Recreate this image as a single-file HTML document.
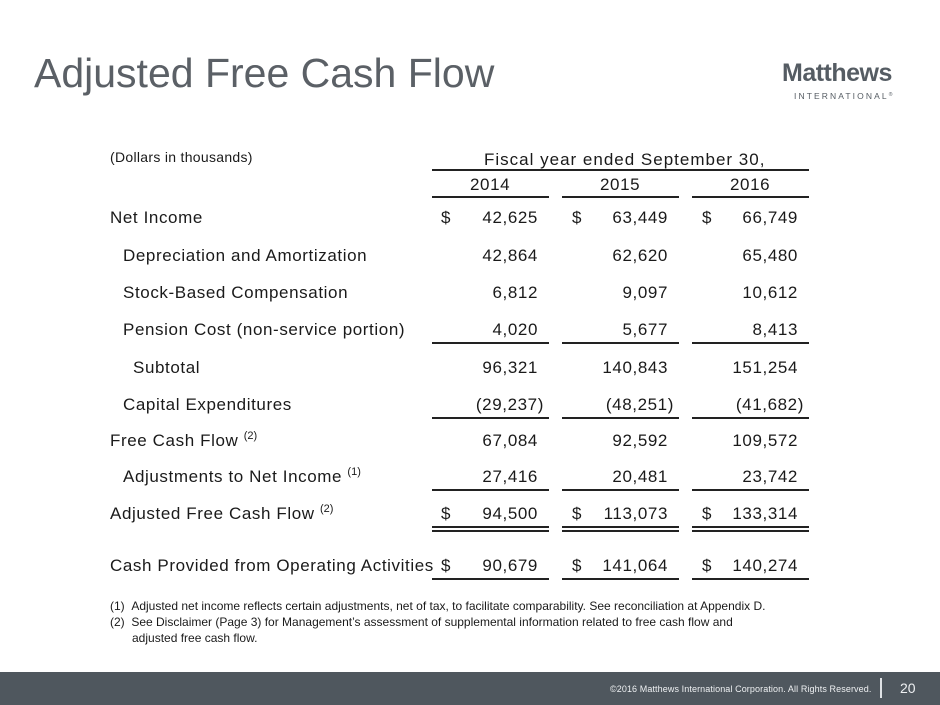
<!DOCTYPE html>
<html><head><style>
body{margin:0;width:940px;height:705px;position:relative;background:#fff;font-family:"Liberation Sans",sans-serif;color:#1a1a1a;overflow:hidden}
.a{position:absolute;white-space:nowrap}
.t{font-size:17px;line-height:18px;letter-spacing:0.6px}
.r{text-align:right;width:110px}
.l{position:absolute;height:0;border-top:2px solid #222}
sup{font-size:11px;line-height:0;position:relative;top:-7px;vertical-align:baseline;letter-spacing:0}
</style></head><body>
<div class="a" style="left:34px;top:50px;font-size:41px;color:#5b6066">Adjusted Free Cash Flow</div>
<div class="a" style="left:782px;top:59px;font-size:25px;font-weight:bold;color:#555c63;letter-spacing:-0.5px">Matthews</div>
<div class="a" style="left:794px;top:91px;font-size:8.5px;color:#555c63;letter-spacing:2.1px">INTERNATIONAL<sup style="font-size:5px;top:-3px">®</sup></div>

<div class="a" style="left:110px;top:149px;font-size:14px;letter-spacing:0.3px">(Dollars in thousands)</div>
<div class="a t" style="left:484px;top:151px;letter-spacing:1px">Fiscal year ended September 30,</div>
<div class="l" style="left:432px;width:377px;top:169px"></div>
<div class="a t" style="left:470px;top:176px">2014</div>
<div class="a t" style="left:600px;top:176px">2015</div>
<div class="a t" style="left:730px;top:176px">2016</div>
<div class="l" style="left:432px;width:117px;top:196px"></div>
<div class="l" style="left:562px;width:117px;top:196px"></div>
<div class="l" style="left:692px;width:117px;top:196px"></div>

<div class="a t" style="left:110px;top:209px">Net Income</div>
<div class="a t" style="left:123px;top:247px">Depreciation and Amortization</div>
<div class="a t" style="left:123px;top:284px">Stock-Based Compensation</div>
<div class="a t" style="left:123px;top:321px">Pension Cost (non-service portion)</div>
<div class="a t" style="left:133px;top:359px">Subtotal</div>
<div class="a t" style="left:123px;top:396px">Capital Expenditures</div>
<div class="a t" style="left:110px;top:432px">Free Cash Flow <sup>(2)</sup></div>
<div class="a t" style="left:123px;top:468px">Adjustments to Net Income <sup>(1)</sup></div>
<div class="a t" style="left:110px;top:505px">Adjusted Free Cash Flow <sup>(2)</sup></div>
<div class="a t" style="left:110px;top:557px">Cash Provided from Operating Activities</div>

<div class="a t" style="left:441px;top:209px">$</div><div class="a t" style="left:572px;top:209px">$</div><div class="a t" style="left:702px;top:209px">$</div>
<div class="a t" style="left:441px;top:505px">$</div><div class="a t" style="left:572px;top:505px">$</div><div class="a t" style="left:702px;top:505px">$</div>
<div class="a t" style="left:441px;top:557px">$</div><div class="a t" style="left:572px;top:557px">$</div><div class="a t" style="left:702px;top:557px">$</div>

<div class="a t r" style="left:428px;top:209px">42,625</div><div class="a t r" style="left:558px;top:209px">63,449</div><div class="a t r" style="left:688px;top:209px">66,749</div>
<div class="a t r" style="left:428px;top:247px">42,864</div><div class="a t r" style="left:558px;top:247px">62,620</div><div class="a t r" style="left:688px;top:247px">65,480</div>
<div class="a t r" style="left:428px;top:284px">6,812</div><div class="a t r" style="left:558px;top:284px">9,097</div><div class="a t r" style="left:688px;top:284px">10,612</div>
<div class="a t r" style="left:428px;top:321px">4,020</div><div class="a t r" style="left:558px;top:321px">5,677</div><div class="a t r" style="left:688px;top:321px">8,413</div>
<div class="a t r" style="left:428px;top:359px">96,321</div><div class="a t r" style="left:558px;top:359px">140,843</div><div class="a t r" style="left:688px;top:359px">151,254</div>
<div class="a t r" style="left:434px;top:396px">(29,237)</div><div class="a t r" style="left:564px;top:396px">(48,251)</div><div class="a t r" style="left:694px;top:396px">(41,682)</div>
<div class="a t r" style="left:428px;top:432px">67,084</div><div class="a t r" style="left:558px;top:432px">92,592</div><div class="a t r" style="left:688px;top:432px">109,572</div>
<div class="a t r" style="left:428px;top:468px">27,416</div><div class="a t r" style="left:558px;top:468px">20,481</div><div class="a t r" style="left:688px;top:468px">23,742</div>
<div class="a t r" style="left:428px;top:505px">94,500</div><div class="a t r" style="left:558px;top:505px">113,073</div><div class="a t r" style="left:688px;top:505px">133,314</div>
<div class="a t r" style="left:428px;top:557px">90,679</div><div class="a t r" style="left:558px;top:557px">141,064</div><div class="a t r" style="left:688px;top:557px">140,274</div>

<div class="l" style="left:432px;width:117px;top:342px"></div><div class="l" style="left:562px;width:117px;top:342px"></div><div class="l" style="left:692px;width:117px;top:342px"></div>
<div class="l" style="left:432px;width:117px;top:417px"></div><div class="l" style="left:562px;width:117px;top:417px"></div><div class="l" style="left:692px;width:117px;top:417px"></div>
<div class="l" style="left:432px;width:117px;top:489px"></div><div class="l" style="left:562px;width:117px;top:489px"></div><div class="l" style="left:692px;width:117px;top:489px"></div>
<div class="l" style="left:432px;width:117px;top:526px"></div><div class="l" style="left:562px;width:117px;top:526px"></div><div class="l" style="left:692px;width:117px;top:526px"></div>
<div class="l" style="left:432px;width:117px;top:530px"></div><div class="l" style="left:562px;width:117px;top:530px"></div><div class="l" style="left:692px;width:117px;top:530px"></div>
<div class="l" style="left:432px;width:117px;top:578px"></div><div class="l" style="left:562px;width:117px;top:578px"></div><div class="l" style="left:692px;width:117px;top:578px"></div>

<div class="a" style="left:110px;top:598px;font-size:12px;line-height:16px">(1)&nbsp;&nbsp;Adjusted net income reflects certain adjustments, net of tax, to facilitate comparability. See reconciliation at Appendix D.</div>
<div class="a" style="left:110px;top:614px;font-size:12px;line-height:16px">(2)&nbsp;&nbsp;See Disclaimer (Page 3) for Management’s assessment of supplemental information related to free cash flow and</div>
<div class="a" style="left:132px;top:630px;font-size:12px;line-height:16px">adjusted free cash flow.</div>

<div class="a" style="left:0;top:672px;width:940px;height:33px;background:#4f575e"></div>
<div class="a" style="left:610px;top:684px;font-size:9px;color:#eef0f2;letter-spacing:0.1px">©2016 Matthews International Corporation. All Rights Reserved.</div>
<div class="a" style="left:880px;top:678px;width:2px;height:20px;background:#dfe2e5"></div>
<div class="a" style="left:900px;top:680px;font-size:14px;color:#eef0f2">20</div>
</body></html>
